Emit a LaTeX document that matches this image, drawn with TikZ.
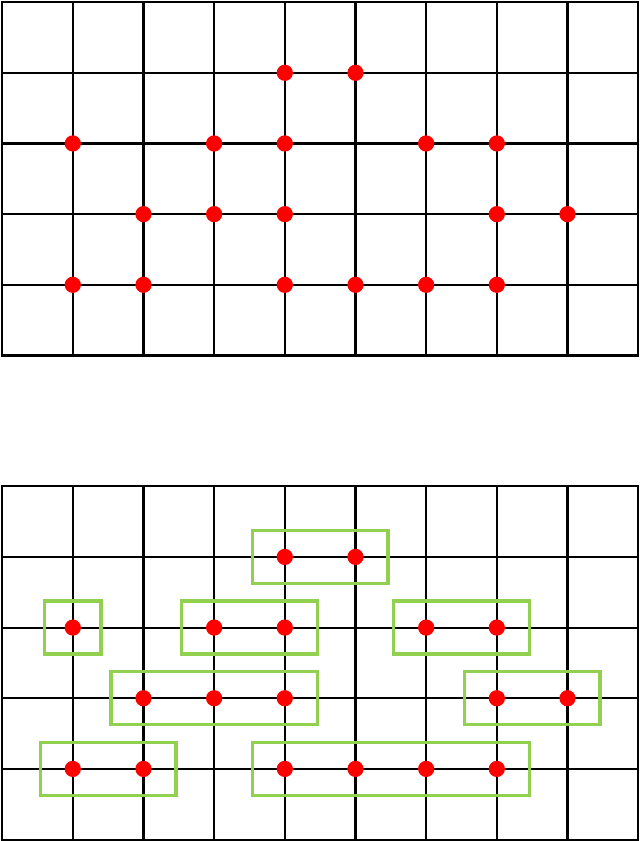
\documentclass[tikz,border=0pt]{standalone}
\usepackage{tikz}
\usepackage{xcolor}

\definecolor{boxgreen}{RGB}{146,208,80}

\tikzset{
  gridline/.style={line width=0.85pt,black},
  hole/.style={fill=red},
  group/.style={draw=boxgreen,line width=1.4pt}
}

% marked crossings of the grid (column, row)
\newcommand{\markedpoints}{4/1,5/1,1/2,3/2,4/2,6/2,7/2,2/3,3/3,4/3,7/3,8/3,1/4,2/4,4/4,5/4,6/4,7/4}

\begin{document}
\begin{tikzpicture}
\useasboundingbox (-0.03,0.03) rectangle (9.03,-11.87);

% upper grid
\draw[gridline,step=1] (0,-5) grid (9,0);
\draw[gridline] (0,-5) rectangle (9,0);
\foreach \c/\r in \markedpoints
  \fill[hole] (\c,-\r) circle (0.115);

% lower grid with the groups
\begin{scope}[yshift=-6.85cm]
\draw[gridline,step=1] (0,-5) grid (9,0);
\draw[gridline] (0,-5) rectangle (9,0);
\foreach \c/\r in \markedpoints
  \fill[hole] (\c,-\r) circle (0.115);

\draw[group] (3.54,-0.625) rectangle (5.46,-1.375);
\draw[group] (0.6,-1.625) rectangle (1.4,-2.375);
\draw[group] (2.54,-1.625) rectangle (4.46,-2.375);
\draw[group] (5.54,-1.625) rectangle (7.46,-2.375);
\draw[group] (1.54,-2.625) rectangle (4.46,-3.375);
\draw[group] (6.54,-2.625) rectangle (8.46,-3.375);
\draw[group] (0.54,-3.625) rectangle (2.46,-4.375);
\draw[group] (3.54,-3.625) rectangle (7.46,-4.375);
\end{scope}

\end{tikzpicture}
\end{document}
